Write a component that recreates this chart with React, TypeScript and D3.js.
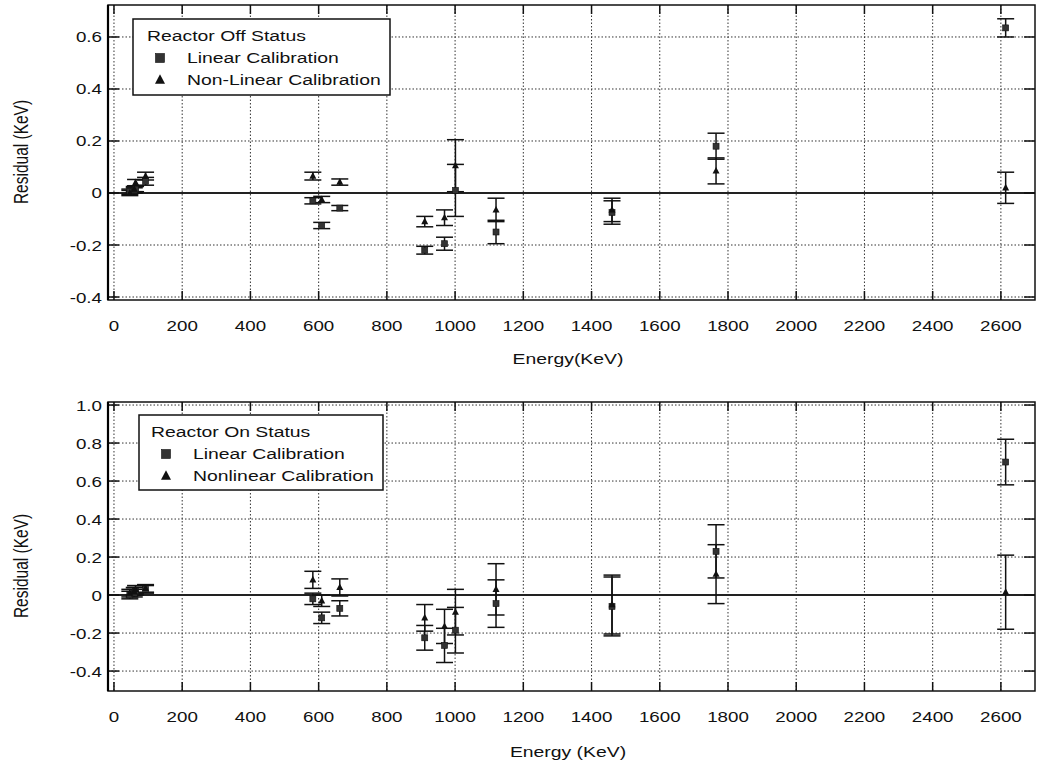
import React from "react";
import * as d3 from "d3";

const energies = [46.5, 59.5, 63.3, 92.6, 583, 609, 662, 911, 969, 1001, 1120, 1460, 1765, 2614];

const offLinear = [0.005, 0.01, 0.015, 0.045, -0.03, -0.125, -0.058, -0.22, -0.195, 0.01, -0.15, -0.075, 0.18, 0.635];
const offLinearErr = [0.01, 0.01, 0.01, 0.015, 0.012, 0.012, 0.01, 0.015, 0.025, 0.1, 0.045, 0.045, 0.05, 0.035];
const offNonlinear = [0.0, 0.015, 0.04, 0.065, 0.065, -0.025, 0.042, -0.11, -0.095, 0.105, -0.065, -0.065, 0.085, 0.02];
const offNonlinearErr = [0.01, 0.01, 0.012, 0.015, 0.015, 0.012, 0.012, 0.02, 0.03, 0.1, 0.045, 0.045, 0.05, 0.06];

const onLinear = [0.0, 0.01, 0.02, 0.03, -0.02, -0.12, -0.07, -0.225, -0.265, -0.185, -0.045, -0.06, 0.23, 0.7];
const onLinearErr = [0.02, 0.02, 0.02, 0.02, 0.03, 0.03, 0.04, 0.065, 0.09, 0.12, 0.125, 0.155, 0.14, 0.12];
const onNonlinear = [0.01, 0.02, 0.03, 0.035, 0.08, -0.03, 0.04, -0.12, -0.165, -0.09, 0.03, -0.05, 0.11, 0.015];
const onNonlinearErr = [0.02, 0.02, 0.02, 0.02, 0.045, 0.03, 0.045, 0.07, 0.09, 0.12, 0.135, 0.155, 0.155, 0.195];

const xTicks = [0, 200, 400, 600, 800, 1000, 1200, 1400, 1600, 1800, 2000, 2200, 2400, 2600];
const offYTicks = [-0.4, -0.2, 0, 0.2, 0.4, 0.6];
const onYTicks = [-0.4, -0.2, 0, 0.2, 0.4, 0.6, 0.8, 1.0];

const FONT = "'Liberation Sans', Arial, Helvetica, sans-serif";

function T({ x, y, anchor = "start", size = 15.5, rotate = false, children }: any) {
  const tr = rotate
    ? `translate(${x},${y}) rotate(-90) scale(1,1.25)`
    : `translate(${x},${y}) scale(1.25,1)`;
  return (
    <text transform={tr} textAnchor={anchor} fontSize={size} fontFamily={FONT} fill="#111">
      {children}
    </text>
  );
}

function fmtY(v: number) {
  if (Math.abs(v) < 1e-9) return "0";
  return d3.format(".1f")(v).replace("\u2212", "-");
}

function Square({ cx, cy, s }: any) {
  return <rect x={cx - s / 2} y={cy - s / 2} width={s} height={s} fill="#333" stroke="#111" strokeWidth={0.6} />;
}
function Tri({ cx, cy, s }: any) {
  const h = s * 0.95;
  return (
    <path
      d={`M${cx},${cy - h * 0.6} L${cx + s / 2},${cy + h * 0.4} L${cx - s / 2},${cy + h * 0.4} Z`}
      fill="#111"
    />
  );
}

function Panel({ top, bottom, yDomain, yTicks, lin, linErr, non, nonErr, legend, xTitle, xTitleY, yTitleY }: any) {
  const left = 108;
  const right = 1035;
  const x = d3.scaleLinear().domain([-17.5, 2700]).range([left, right]);
  const y = d3.scaleLinear().domain(yDomain).range([bottom, top]);
  const cap = 8.5;
  const tickLen = 9;

  const errBars = (vals: number[], errs: number[], key: string) =>
    vals.map((v, i) => {
      const cx = x(energies[i]);
      const y1 = y(v + errs[i]);
      const y2 = y(v - errs[i]);
      return (
        <g key={key + i} stroke="#111" strokeWidth={1.5}>
          <line x1={cx} x2={cx} y1={y1} y2={y2} />
          <line x1={cx - cap} x2={cx + cap} y1={y1} y2={y1} />
          <line x1={cx - cap} x2={cx + cap} y1={y2} y2={y2} />
        </g>
      );
    });

  return (
    <g>
      {xTicks.map((t) => (
        <line key={"gx" + t} x1={x(t)} x2={x(t)} y1={top} y2={bottom} stroke="#333" strokeWidth={1} strokeDasharray="1.5,2" />
      ))}
      {yTicks.filter((t: number) => Math.abs(t) > 1e-9).map((t: number) => (
        <line key={"gy" + t} x1={left} x2={right} y1={y(t)} y2={y(t)} stroke="#333" strokeWidth={1} strokeDasharray="1.5,2" />
      ))}
      <line x1={left} x2={right} y1={y(0)} y2={y(0)} stroke="#222" strokeWidth={2} />
      {xTicks.map((t) => (
        <g key={"tx" + t} stroke="#111" strokeWidth={1.5}>
          <line x1={x(t)} x2={x(t)} y1={bottom} y2={bottom - tickLen} />
          <line x1={x(t)} x2={x(t)} y1={top} y2={top + tickLen} />
        </g>
      ))}
      {yTicks.map((t: number) => (
        <g key={"ty" + t} stroke="#111" strokeWidth={1.5}>
          <line x1={left} x2={left + tickLen + 2} y1={y(t)} y2={y(t)} />
          <line x1={right} x2={right - tickLen - 2} y1={y(t)} y2={y(t)} />
        </g>
      ))}
      <rect x={left} y={top} width={right - left} height={bottom - top} fill="none" stroke="#111" strokeWidth={1.5} />
      <line x1={left} x2={left} y1={top} y2={bottom} stroke="#000" strokeWidth={2.2} />
      {xTicks.map((t) => (
        <T key={"lx" + t} x={x(t)} y={bottom + 31} anchor="middle" size={15}>
          {String(t)}
        </T>
      ))}
      {yTicks.map((t: number) => (
        <T key={"ly" + t} x={left - 6} y={y(t) + 5.5} anchor="end" size={15}>
          {fmtY(t)}
        </T>
      ))}
      <T x={568} y={xTitleY} anchor="middle" size={15.5}>
        {xTitle}
      </T>
      <T x={28} y={yTitleY} anchor="middle" size={15.5} rotate>
        Residual (KeV)
      </T>
      {errBars(lin, linErr, "el")}
      {errBars(non, nonErr, "en")}
      {lin.map((v: number, i: number) => (
        <Square key={"s" + i} cx={x(energies[i])} cy={y(v)} s={6} />
      ))}
      {non.map((v: number, i: number) => (
        <Tri key={"t" + i} cx={x(energies[i])} cy={y(v)} s={7} />
      ))}
      <rect x={legend.x} y={legend.y} width={legend.w} height={legend.h} fill="#fff" stroke="#111" strokeWidth={1.5} />
      <T x={legend.x + legend.tx} y={legend.y + 22} size={15.5}>
        {legend.title}
      </T>
      <Square cx={legend.x + legend.mx} cy={legend.y + 22 + legend.dy - 5} s={9} />
      <T x={legend.x + legend.ix} y={legend.y + 22 + legend.dy} size={15.5}>
        Linear Calibration
      </T>
      <Tri cx={legend.x + legend.mx} cy={legend.y + 22 + legend.dy * 2 - 5} s={10} />
      <T x={legend.x + legend.ix} y={legend.y + 22 + legend.dy * 2} size={15.5}>
        {legend.nonlinear}
      </T>
    </g>
  );
}

export default function App() {
  return (
    <svg
      width={1038}
      height={767}
      style={{ position: "absolute", left: 0, top: 0, background: "#fff" }}
    >
      <rect x={0} y={0} width={1038} height={767} fill="#fff" />
      <Panel
        top={5}
        bottom={300}
        yDomain={[-0.4115, 0.723]}
        yTicks={offYTicks}
        lin={offLinear}
        linErr={offLinearErr}
        non={offNonlinear}
        nonErr={offNonlinearErr}
        legend={{ x: 133, y: 19, w: 257, h: 76, tx: 14, mx: 27, ix: 54, dy: 22, title: "Reactor Off Status", nonlinear: "Non-Linear Calibration" }}
        xTitle="Energy(KeV)"
        xTitleY={364}
        yTitleY={152}
      />
      <Panel
        top={402}
        bottom={691}
        yDomain={[-0.505, 1.016]}
        yTicks={onYTicks}
        lin={onLinear}
        linErr={onLinearErr}
        non={onNonlinear}
        nonErr={onNonlinearErr}
        legend={{ x: 139, y: 415, w: 244, h: 75, tx: 12, mx: 27, ix: 54, dy: 22, title: "Reactor On Status", nonlinear: "Nonlinear Calibration" }}
        xTitle="Energy (KeV)"
        xTitleY={757}
        yTitleY={566}
      />
    </svg>
  );
}
